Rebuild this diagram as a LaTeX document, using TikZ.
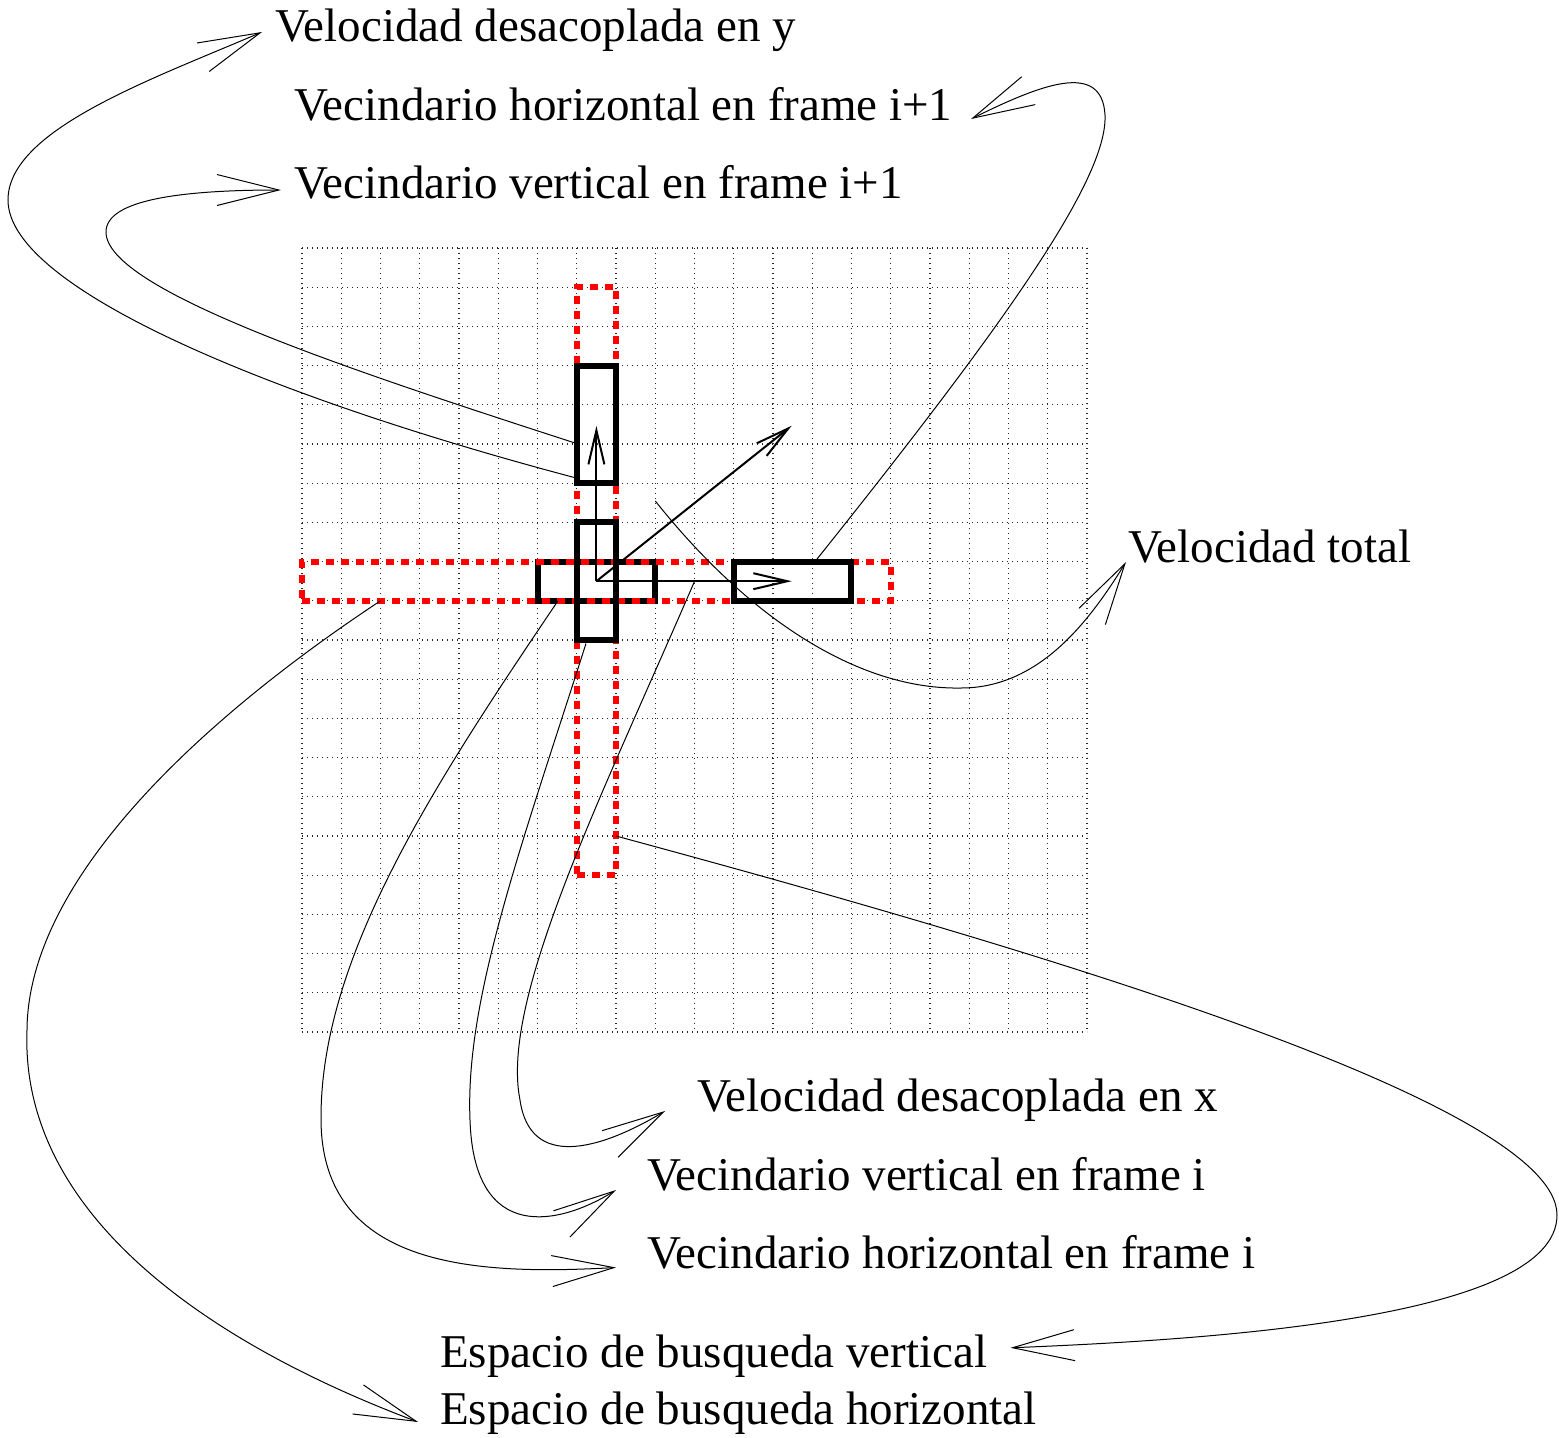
\documentclass[tikz,border=0pt]{standalone}
\usepackage{fontspec}
\setmainfont{Liberation Serif}
\usetikzlibrary{arrows.meta}
\tikzset{
  gridline/.style={line width=1.1pt, black!85, dash pattern=on 1.2pt off 3.8pt},
  redbox/.style={draw=red, line width=6pt, dash pattern=on 8pt off 7pt, inner sep=0pt},
  blkbox/.style={draw=black, line width=6pt, inner sep=0pt},
  vec/.style={line width=2pt, -{Straight Barb[length=34pt,width=16pt]}},
  lead/.style={line width=1pt, -{Straight Barb[length=62pt,width=31pt]}},
  lbl/.style={anchor=base west, inner sep=0pt, font=\fontsize{47}{50}\selectfont}
}
\begin{document}
\begin{tikzpicture}[x=1pt,y=-1pt]
\useasboundingbox (0,0) rectangle (1559,1438);
% grid
\foreach \i in {0,...,20}{
  \draw[gridline] (302+39.25*\i,248) -- (302+39.25*\i,1032);
  \draw[gridline] (302,248+39.2*\i) -- (1087,248+39.2*\i);
}
% boxes
\node[blkbox, minimum width=117.75pt, minimum height=39.2pt] (boxCH) at (596.4,581.2) {};
\node[redbox, minimum width=588.75pt, minimum height=39.2pt] (redH) at (596.4,581.2) {};
\node[redbox, minimum width=39.25pt, minimum height=588pt] (redV) at (596.4,581.2) {};
\node[blkbox, minimum width=39.25pt, minimum height=117.6pt] (boxUp) at (596.4,424.4) {};
\node[blkbox, minimum width=39.25pt, minimum height=117.6pt] (boxCV) at (596.4,581.2) {};
\node[blkbox, minimum width=117.75pt, minimum height=39.2pt] (boxR) at (792.6,581.2) {};
% vectors
\coordinate (O) at (596.4,581.2);
\coordinate (vy) at (596.4,426);
\coordinate (vx) at (791.7,581.2);
\coordinate (vt) at (791.7,425.7);
\draw[vec] (O) -- (vy);
\draw[vec] (O) -- (vx);
\draw[vec] (O) -- (vt);
% labels
\node[lbl] (tA) at (275,41) {Velocidad desacoplada en y};
\node[lbl] (tB) at (294,120) {Vecindario horizontal en frame i+1};
\node[lbl] (tC) at (294,198) {Vecindario vertical en frame i+1};
\node[lbl] (tD) at (1128,562) {Velocidad total};
\node[lbl] (tE) at (697,1111) {Velocidad desacoplada en x};
\node[lbl] (tF) at (647,1190) {Vecindario vertical en frame i};
\node[lbl] (tG) at (647,1268) {Vecindario horizontal en frame i};
\node[lbl] (tH) at (440,1367) {Espacio de busqueda vertical};
\node[lbl] (tI) at (440,1424) {Espacio de busqueda horizontal};
% connector ends
\coordinate (sA) at (580,479);   \coordinate (eA) at (262,32);
\coordinate (sB) at (575,443);   \coordinate (eB) at (281,190);
\coordinate (sC) at (815,561.6); \coordinate (eC) at (971,119);
\coordinate (sD) at (655.3,501); \coordinate (eD) at (1126,562);
\coordinate (sE) at (694.4,581.6); \coordinate (eE) at (665,1111);
\coordinate (sF) at (586,643.5); \coordinate (eF) at (616,1190);
\coordinate (sG) at (558,600.8); \coordinate (eG) at (616,1267.5);
\coordinate (sH) at (616,836);   \coordinate (eH) at (1010.5,1347.8);
\coordinate (sI) at (380.5,600.8); \coordinate (eI) at (418,1422);
% connectors
\draw[lead] (sA) .. controls (280,400) and (8,290) .. (8,200)
                 .. controls (8,130) and (150,80) .. (eA);
\draw[lead] (sB) .. controls (350,370) and (106,290) .. (106,232)
                 .. controls (106,200) and (180,190) .. (eB);
\draw[lead] (sC) .. controls (1000,330) and (1108,180) .. (1105,115)
                 .. controls (1102,60) and (1040,85) .. (eC);
\draw[lead] (sD) .. controls (750,620) and (860,690) .. (961,688)
                 .. controls (1040,688) and (1090,620) .. (eD);
\draw[lead] (sE) .. controls (600,800) and (500,1000) .. (520,1100)
                 .. controls (530,1170) and (600,1150) .. (eE);
\draw[lead] (sF) .. controls (520,850) and (465,1000) .. (470,1120)
                 .. controls (474,1245) and (560,1225) .. (eF);
\draw[lead] (sG) .. controls (430,790) and (320,960) .. (321,1120)
                 .. controls (322,1270) and (480,1275) .. (eG);
\draw[lead] (sH) .. controls (1000,940) and (1557,1100) .. (1557,1215)
                 .. controls (1557,1320) and (1200,1340) .. (eH);
\draw[lead] (sI) .. controls (200,720) and (28,880) .. (27,1030)
                 .. controls (20,1210) and (200,1340) .. (eI);
\end{tikzpicture}
\end{document}
